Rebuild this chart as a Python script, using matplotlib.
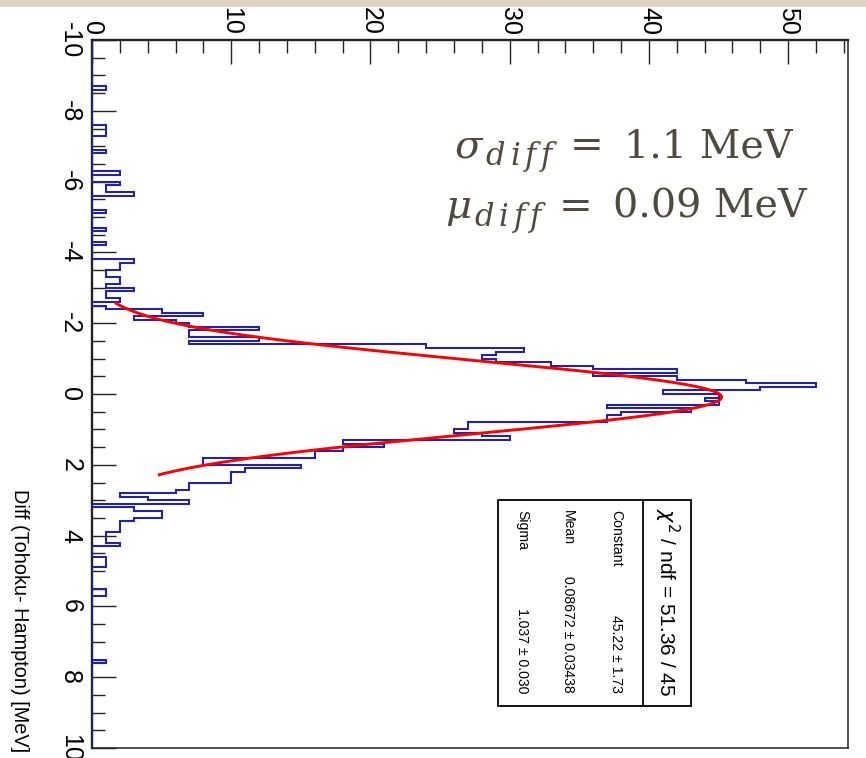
import matplotlib
matplotlib.use('Agg')
import matplotlib.pyplot as plt
import numpy as np
from matplotlib.patches import Rectangle
from matplotlib.lines import Line2D
from matplotlib.ticker import MultipleLocator
from matplotlib import font_manager

plt.rcParams['font.family'] = ['Liberation Sans', 'DejaVu Sans']
plt.rcParams['axes.unicode_minus'] = False

_names = {f.name for f in font_manager.fontManager.ttflist}
NARROW = 'Liberation Sans Narrow' if 'Liberation Sans Narrow' in _names else 'Liberation Sans'
narrow_scale = 1.0 if NARROW == 'Liberation Sans Narrow' else 0.84

# ---------------- data ----------------
diff_min = -10.0
diff_max = 10.0
bin_width = 0.1
# counts per 0.1 MeV bin, from -10 to 10 (200 bins)
counts = [
    0, 0, 0, 0, 0, 0, 0, 0, 0, 0, 0, 0, 0, 1, 0, 0, 0, 0, 0, 0,      # -10.0 .. -8.1
    0, 0, 0, 0, 1, 1, 1, 0, 0, 0, 0, 1, 0, 0, 0, 0, 0, 2, 0, 0,      # -8.0 .. -6.1
    2, 1, 1, 3, 0, 0, 0, 0, 1, 0, 0, 0, 0, 1, 0, 0, 0, 1, 0, 0,      # -6.0 .. -4.1
    0, 0, 3, 2, 2, 1, 1, 2, 2, 1, 3, 1, 1, 2, 0, 1, 5, 8, 3, 6,      # -4.0 .. -2.1
    7, 12, 7, 7, 12, 7, 24, 31, 29, 28, 29, 33, 36, 42, 36, 42, 47, 52, 48, 41,  # -2.0 .. -0.1
    45, 44, 45, 37, 43, 38, 37, 37, 27, 27, 26, 28, 30, 18, 21, 18, 16, 16, 8, 8,  # 0.0 .. 1.9
    15, 11, 10, 10, 10, 7, 7, 6, 2, 4, 7, 0, 3, 5, 5, 3, 2, 2, 2, 1,  # 2.0 .. 3.9
    1, 1, 2, 0, 0, 0, 1, 1, 1, 0, 0, 0, 0, 0, 0, 1, 1, 0, 0, 0,      # 4.0 .. 5.9
    0, 0, 0, 0, 0, 0, 0, 0, 0, 0, 0, 0, 0, 0, 0, 1, 0, 0, 0, 0,      # 6.0 .. 7.9
    0, 0, 0, 0, 0, 0, 0, 0, 0, 0, 0, 0, 0, 0, 0, 0, 0, 0, 0, 0,      # 8.0 .. 9.9
]
count_ticks = [0, 10, 20, 30, 40, 50]
diff_ticks = [-10, -8, -6, -4, -2, 0, 2, 4, 6, 8, 10]

# Gaussian fit result shown in the stats box
fit_constant = 45.22
fit_mean = 0.08672
fit_sigma = 1.037
fit_range = (-2.56, 2.28)
stats_title = r"$\chi^{2}$ / ndf = 51.36 / 45"
stats_names = ["Constant", "Mean", "Sigma"]
stats_values = ["45.22 \u00b1 1.73", "0.08672 \u00b1 0.03438", "1.037 \u00b1 0.030"]
annot_symbols = ["\u03c3", "\u03bc"]
annot_subscript = "diff"
annot_values = ["1.1 MeV", "0.09 MeV"]
axis_title = "Diff (Tohoku- Hampton) [MeV]"

# ---------------- figure ----------------
W, H = 866, 758
fig = plt.figure(figsize=(W / 100, H / 100), dpi=100)
fig.patch.set_facecolor('white')


def fx(x):
    return x / W


def fy(y):
    return 1 - y / H


# textured strip at top of the slide
fig.patches.append(Rectangle((0, fy(7)), 1, 7 / H, transform=fig.transFigure,
                             facecolor='#ddd3c2', edgecolor='none', zorder=0))

L, R, T, B = 92, 848, 40, 748
ax = fig.add_axes([fx(L), fy(B), (R - L) / W, (B - T) / H])
ax.set_facecolor('white')

edges = diff_min + bin_width * np.arange(len(counts) + 1)
ax.stairs(counts, edges, orientation='horizontal', baseline=0,
          color='#2323a8', lw=1.5, zorder=3)

v = np.linspace(fit_range[0], fit_range[1], 400)
c = fit_constant * np.exp(-0.5 * ((v - fit_mean) / fit_sigma) ** 2)
ax.plot(c, v, color='#ff0000', lw=2.1, zorder=4)

ax.set_xlim(0, 54.3)
ax.set_ylim(diff_max, diff_min)
ax.xaxis.tick_top()
ax.set_xticks(count_ticks)
ax.set_xticklabels([str(t) for t in count_ticks], rotation=-90, ha='center', va='bottom')
ax.xaxis.set_minor_locator(MultipleLocator(2))
ax.set_yticks(diff_ticks)
ax.set_yticklabels([str(t) for t in diff_ticks], rotation=-90, ha='right', va='center')
ax.yaxis.set_minor_locator(MultipleLocator(0.5))
ax.tick_params(which='both', direction='in', top=True, bottom=False,
               left=True, right=False, labeltop=True, labelbottom=False,
               color='#222222', width=1.0)
ax.tick_params(which='major', length=17, labelsize=18)
ax.tick_params(axis='x', which='major', pad=3.5)
ax.tick_params(axis='y', which='major', pad=7)
ax.tick_params(which='minor', length=9)
for side, s in ax.spines.items():
    s.set_linewidth(1.7 if side in ('left', 'top') else 1.1)
    s.set_color('#222222')

# axis title (rotated like the rest of the ROOT canvas)
fig.text(fx(19), fy(752), axis_title, rotation=-90, ha='center', va='bottom',
         fontsize=17 * narrow_scale, family=NARROW, color='black')

# stats box
bx0, bx1, by0, by1, bdiv = 498, 691, 500, 706, 643
fig.patches.append(Rectangle((fx(bx0), fy(by1)), (bx1 - bx0) / W, (by1 - by0) / H,
                             transform=fig.transFigure, facecolor='white',
                             edgecolor='black', lw=1.3, zorder=5))
fig.lines.append(Line2D([fx(bdiv), fx(bdiv)], [fy(by0), fy(by1)],
                        transform=fig.transFigure, color='black', lw=1.3, zorder=6))
fig.text(fx(667), fy(602), stats_title, rotation=-90, ha='center', va='center',
         fontsize=15, zorder=7)
row_x = [616, 568, 522]
for xr, name, val in zip(row_x, stats_names, stats_values):
    fig.text(fx(xr), fy(510), name, rotation=-90, ha='center', va='top',
             fontsize=12 * narrow_scale, family=NARROW, zorder=7)
    fig.text(fx(xr), fy(693), val, rotation=-90, ha='center', va='bottom',
             fontsize=12 * narrow_scale, family=NARROW, zorder=7)

# annotation, built from pieces to mimic the equation-editor spacing
renderer = fig.canvas.get_renderer()
acol = '#4f4a3e'


def put(x, yb, s, size, style='normal'):
    t = fig.text(fx(x), fy(yb), s, ha='left', va='baseline', fontsize=size,
                 family='DejaVu Serif', style=style, color=acol)
    bb = t.get_window_extent(renderer)
    return bb.x1


for x0, yb, sym, val in zip([455, 445], [157, 218], annot_symbols, annot_values):
    x = put(x0, yb, sym, 29, 'italic') + 3
    for ch in annot_subscript:
        x = put(x, yb + 8, ch, 22, 'italic') + 5
    x = put(x + 13, yb, "=", 29) + 20
    put(x, yb, val, 28.5)

fig.savefig('out.png', dpi=100, facecolor='white')
